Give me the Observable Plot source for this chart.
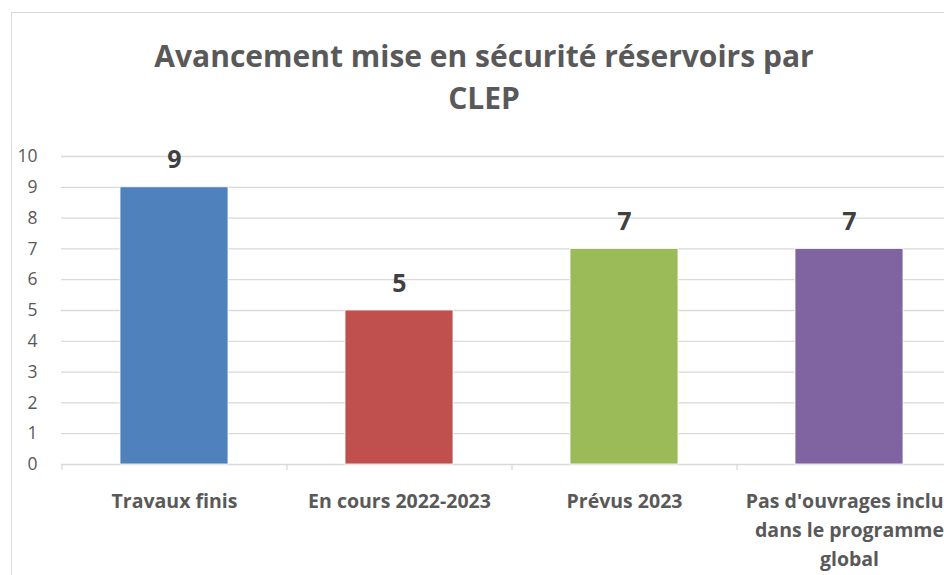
<!DOCTYPE html>
<html>
<head>
<meta charset="utf-8">
<script src="https://cdn.jsdelivr.net/npm/d3@7"></script>
<script src="https://cdn.jsdelivr.net/npm/@observablehq/plot@0.6"></script>
<style>
  html, body { margin: 0; padding: 0; background: #fff; }
  #wrap { position: relative; width: 944px; height: 575px; overflow: hidden; font-family: "Open Sans", sans-serif; }
  #frame { position: absolute; left: 11px; top: 12px; width: 960px; height: 600px; border: 1px solid #d9d9d9; box-sizing: border-box; }
  #title { position: absolute; left: 11px; width: 946px; top: 35px; text-align: center; font-size: 30px; font-weight: 700; line-height: 42px; color: #595959; white-space: nowrap; }
  #chart { position: absolute; left: 0; top: 0; }
</style>
</head>
<body>
<div id="wrap">
  <div id="frame"></div>
  <div id="chart"></div>
  <div id="title">Avancement mise en sécurité réservoirs par<br>CLEP</div>
</div>
<script>
const categories = ["Travaux finis", "En cours 2022-2023", "Prévus 2023", "Pas d'ouvrages inclus\ndans le programme\nglobal"];
const values = [9, 5, 7, 7];
const colors = ["#4F81BD", "#C0504D", "#9BBB59", "#8064A2"];
const yTicks = [0, 1, 2, 3, 4, 5, 6, 7, 8, 9, 10];

const data = categories.map((c, i) => ({cat: c, value: values[i], color: colors[i]}));

const xRange = [61, 961];
const step = (xRange[1] - xRange[0]) / categories.length;

const chart = Plot.plot({
  width: 944,
  height: 575,
  marginLeft: 61,
  marginTop: 156,
  marginBottom: 111,
  marginRight: 0,
  style: {fontFamily: "'Open Sans', sans-serif", background: "transparent", overflow: "visible"},
  x: {domain: categories, range: xRange, paddingInner: 0.52, paddingOuter: 0.26, axis: null},
  y: {domain: [0, 10], range: [464, 156], axis: null},
  marks: [
    Plot.ruleY(yTicks, {y: d => d, stroke: "#d9d9d9", strokeWidth: 1.3}),
    Plot.ruleX(categories, {x: d => d, y1: 0, y2: 0, dx: -step / 2, insetBottom: -6, stroke: "#d9d9d9", strokeWidth: 1.3}),
    Plot.barY(data, {x: "cat", y: "value", fill: "color", stroke: "white", strokeWidth: 0.8}),
    Plot.text(data, {x: "cat", y: "value", text: d => String(d.value), dy: -19, lineAnchor: "bottom", fontSize: 25, fontWeight: "bold", fill: "#404040"}),
    Plot.text(data, {x: "cat", y: 0, text: "cat", dy: 23, lineAnchor: "top", lineHeight: 29 / 19.5, fontSize: 19.5, fontWeight: "bold", fill: "#595959"}),
    Plot.axisY({ticks: yTicks, label: null, tickSize: 0, tickPadding: 24, fontSize: 17.5, color: "#595959", tickFormat: d => String(d)})
  ]
});
document.getElementById("chart").appendChild(chart);
</script>
</body>
</html>
